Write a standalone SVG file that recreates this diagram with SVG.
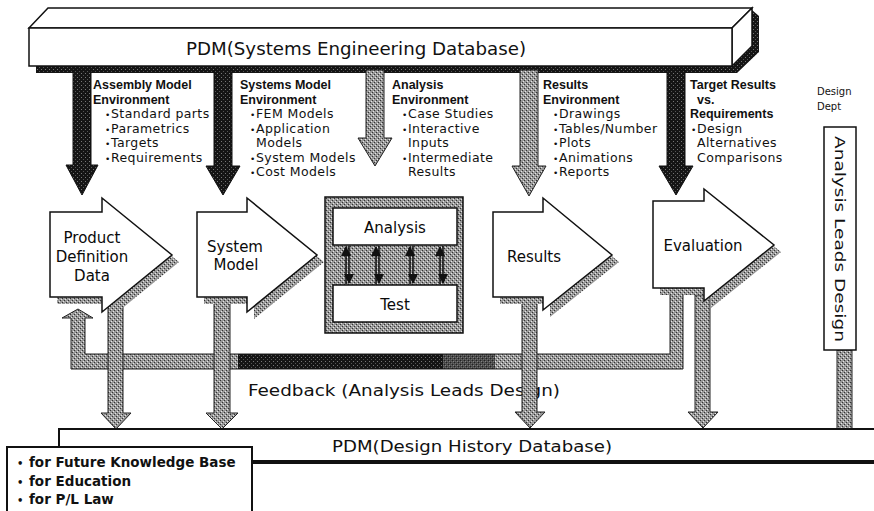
<svg xmlns="http://www.w3.org/2000/svg" width="874" height="511" viewBox="0 0 874 511">
  <defs>
    <style>
      .hd { font-family: "Liberation Sans", Arial, sans-serif; font-weight: bold; font-size: 12.5px; fill: #111; }
      .it { font-family: "DejaVu Sans", sans-serif; font-size: 12.5px; letter-spacing: 0.4px; fill: #111; }
      .bl { font-size: 9px; letter-spacing: 0; }
      .nd { font-family: "DejaVu Sans", sans-serif; font-size: 15px; fill: #0a0a0a; text-anchor: middle; }
      .box { fill: #fff; stroke: #111; stroke-width: 1.5; }
      .grey { fill: url(#ht); stroke: #222; stroke-width: 1; }
      .dark { fill: url(#dk); stroke: #111; stroke-width: 1; }
      .shade { fill: url(#ht); }
    </style>
    <!-- halftone grey fill -->
    <pattern id="ht" width="4" height="4" patternUnits="userSpaceOnUse">
      <rect width="4" height="4" fill="#989898"/>
      <rect x="0" y="0" width="1" height="1" fill="#333"/>
      <rect x="2" y="2" width="1" height="1" fill="#333"/>
      <rect x="1" y="3" width="1" height="1" fill="#e6e6e6"/>
      <rect x="3" y="1" width="1" height="1" fill="#e6e6e6"/>
    </pattern>
    <!-- dark halftone fill -->
    <pattern id="dk" width="4" height="4" patternUnits="userSpaceOnUse">
      <rect width="4" height="4" fill="#151515"/>
      <rect x="1" y="1" width="1" height="1" fill="#777"/>
      <rect x="3" y="3" width="1" height="1" fill="#555"/>
    </pattern>
    <marker id="tri" viewBox="0 0 10 10" refX="9" refY="5" markerWidth="10" markerHeight="10" markerUnits="userSpaceOnUse" orient="auto">
      <path d="M0,0 L10,5 L0,10 Z" fill="#111"/>
    </marker>
  </defs>

  <rect width="874" height="511" fill="#fff"/>

  <!-- PDM systems engineering database (3D bar) -->
  <g id="pdm-systems">
    <polygon points="36,66 732,66 752,46 752,10 759,16 759,52 737,73 36,73" fill="url(#dk)"/>
    <polygon class="box" points="29,28 48,8 752,8 732,28"/>
    <polygon class="box" points="732,28 752,8 752,46 732,66"/>
    <rect class="box" x="29" y="28" width="703" height="38"/>
    <text x="186" y="55" font-family="DejaVu Sans, sans-serif" font-size="17" fill="#111" textLength="340" lengthAdjust="spacingAndGlyphs">PDM(Systems Engineering Database)</text>
  </g>

  <!-- environment labels -->
  <g id="labels">
    <text class="hd" x="93" y="89">Assembly Model</text>
    <text class="hd" x="93" y="103.5">Environment</text>
    <text class="it" x="105" y="118"><tspan class="bl">•</tspan><tspan x="111">Standard parts</tspan></text>
    <text class="it" x="105" y="132.5"><tspan class="bl">•</tspan><tspan x="111">Parametrics</tspan></text>
    <text class="it" x="105" y="147"><tspan class="bl">•</tspan><tspan x="111">Targets</tspan></text>
    <text class="it" x="105" y="161.5"><tspan class="bl">•</tspan><tspan x="111">Requirements</tspan></text>

    <text class="hd" x="240" y="89">Systems Model</text>
    <text class="hd" x="240" y="103.5">Environment</text>
    <text class="it" x="250" y="118"><tspan class="bl">•</tspan><tspan x="256">FEM Models</tspan></text>
    <text class="it" x="250" y="132.5"><tspan class="bl">•</tspan><tspan x="256">Application</tspan></text>
    <text class="it" x="256" y="147">Models</text>
    <text class="it" x="250" y="161.5"><tspan class="bl">•</tspan><tspan x="256">System Models</tspan></text>
    <text class="it" x="250" y="176">
      <tspan class="bl">•</tspan><tspan x="256">Cost Models</tspan></text>

    <text class="hd" x="392" y="89">Analysis</text>
    <text class="hd" x="392" y="103.5">Environment</text>
    <text class="it" x="402" y="118"><tspan class="bl">•</tspan><tspan x="408">Case Studies</tspan></text>
    <text class="it" x="402" y="132.5"><tspan class="bl">•</tspan><tspan x="408">Interactive</tspan></text>
    <text class="it" x="408" y="147">Inputs</text>
    <text class="it" x="402" y="161.5"><tspan class="bl">•</tspan><tspan x="408">Intermediate</tspan></text>
    <text class="it" x="408" y="176">Results</text>

    <text class="hd" x="543" y="89">Results</text>
    <text class="hd" x="543" y="103.5">Environment</text>
    <text class="it" x="553" y="118"><tspan class="bl">•</tspan><tspan x="559">Drawings</tspan></text>
    <text class="it" x="553" y="132.5"><tspan class="bl">•</tspan><tspan x="559">Tables/Number</tspan></text>
    <text class="it" x="553" y="147"><tspan class="bl">•</tspan><tspan x="559">Plots</tspan></text>
    <text class="it" x="553" y="161.5"><tspan class="bl">•</tspan><tspan x="559">Animations</tspan></text>
    <text class="it" x="553" y="176"><tspan class="bl">•</tspan><tspan x="559">Reports</tspan></text>

    <text class="hd" x="690" y="89">Target Results</text>
    <text class="hd" x="697" y="103.5">vs.</text>
    <text class="hd" x="690" y="118">Requirements</text>
    <text class="it" x="691" y="132.5"><tspan class="bl">•</tspan><tspan x="697">Design</tspan></text>
    <text class="it" x="697" y="147">Alternatives</text>
    <text class="it" x="697" y="161.5">Comparisons</text>

    <text x="248" y="396" font-family="DejaVu Sans, sans-serif" font-size="16" fill="#111" textLength="312" lengthAdjust="spacingAndGlyphs">Feedback (Analysis Leads Design)</text>
  </g>

  <!-- connectors -->
  <g id="connectors">
    <!-- from the systems engineering database down to each stage -->
    <polygon class="dark" points="73,70 91,70 91,165 98,165 82,195 66,165 73,165"/>
    <polygon class="dark" points="214,70 232,70 232,166 240,166 223,195 206,166 214,166"/>
    <polygon class="grey" points="366,70 384,70 384,138 392,138 375,166 358,138 366,138"/>
    <polygon class="grey" points="520,70 538,70 538,166 546,166 529,196 512,166 520,166"/>
    <polygon class="dark" points="667,70 685,70 685,166 693,166 676,195 659,166 667,166"/>

    <!-- feedback loop from evaluation back to product definition -->
    <polygon class="grey" points="78,309 93,318 85,318 85,354 670,354 670,290 683,290 683,369 71,369 71,318 62,318"/>
    <rect x="238" y="354" width="205" height="15" fill="url(#dk)"/>
    <rect x="443" y="354" width="52" height="15" fill="url(#dk)" opacity="0.6"/>

    <!-- stages down to the design history database -->
    <polygon class="grey" points="108,300 123,300 123,413 131,413 116,429 101,413 108,413"/>
    <polygon class="grey" points="214,300 230,300 230,413 238,413 222,429 206,413 214,413"/>
    <polygon class="grey" points="522,300 537,300 537,412 545,412 530,428 515,412 522,412"/>
    <polygon class="grey" points="695,295 710,295 710,412 718,412 703,428 688,412 695,412"/>

    <!-- design dept post -->
    <rect class="grey" x="837" y="350" width="15" height="79"/>
  </g>

  <!-- stage nodes -->
  <g id="node-product">
    <polygon class="shade" points="57,219 109,219 109,205 179,262 109,319 109,304 57,304"/>
    <polygon class="box" points="50,212 102,212 102,198 172,255 102,312 102,297 50,297"/>
    <text class="nd" x="92" y="243">Product</text>
    <text class="nd" x="92" y="262">Definition</text>
    <text class="nd" x="92" y="281">Data</text>
  </g>

  <g id="node-system">
    <polygon class="shade" points="204,219 254,219 254,205 324,262 254,319 254,304 204,304"/>
    <polygon class="box" points="197,212 247,212 247,198 317,255 247,312 247,297 197,297"/>
    <text class="nd" x="235" y="252">System</text>
    <text class="nd" x="236" y="270">Model</text>
  </g>

  <g id="node-analysis">
    <rect x="325" y="197" width="138" height="136" fill="url(#ht)" stroke="#111" stroke-width="1.5"/>
    <rect class="box" x="333" y="208" width="124" height="37"/>
    <rect class="box" x="333" y="285" width="124" height="37"/>
    <text class="nd" x="395" y="233">Analysis</text>
    <text class="nd" x="395" y="310">Test</text>
    <g stroke="#111" stroke-width="1.5" fill="none">
      <line x1="346" y1="284" x2="346" y2="247" marker-end="url(#tri)"/>
      <line x1="349" y1="246" x2="349" y2="283" marker-end="url(#tri)"/>
      <line x1="376" y1="284" x2="376" y2="247" marker-end="url(#tri)"/>
      <line x1="379" y1="246" x2="379" y2="283" marker-end="url(#tri)"/>
      <line x1="410" y1="284" x2="410" y2="247" marker-end="url(#tri)"/>
      <line x1="413" y1="246" x2="413" y2="283" marker-end="url(#tri)"/>
      <line x1="440" y1="284" x2="440" y2="247" marker-end="url(#tri)"/>
      <line x1="443" y1="246" x2="443" y2="283" marker-end="url(#tri)"/>
    </g>
  </g>

  <g id="node-results">
    <polygon class="shade" points="500,219 550,219 550,205 619,262 550,317 550,304 500,304"/>
    <polygon class="box" points="493,212 543,212 543,198 612,255 543,310 543,297 493,297"/>
    <text class="nd" x="534" y="262">Results</text>
  </g>

  <g id="node-evaluation">
    <polygon class="shade" points="660,208 711,208 711,196 781,252 711,308 711,295 660,295"/>
    <polygon class="box" points="653,201 704,201 704,189 774,245 704,301 704,288 653,288"/>
    <text class="nd" x="703" y="251">Evaluation</text>
  </g>

  <!-- design department label -->
  <g id="design-dept">
    <text x="817" y="95" font-family="DejaVu Sans, sans-serif" font-size="10" fill="#111">Design</text>
    <text x="817" y="110" font-family="DejaVu Sans, sans-serif" font-size="10" fill="#111">Dept</text>
    <rect class="box" x="824" y="127" width="32" height="223"/>
    <text transform="translate(835,239) rotate(90)" text-anchor="middle" font-family="DejaVu Sans, sans-serif" font-size="14" fill="#111" textLength="206" lengthAdjust="spacingAndGlyphs">Analysis Leads Design</text>
  </g>

  <!-- PDM design history database -->
  <g id="pdm-history">
    <line x1="59" y1="429" x2="874" y2="429" stroke="#111" stroke-width="2"/>
    <line x1="59" y1="428" x2="59" y2="448" stroke="#111" stroke-width="2"/>
    <line x1="252" y1="462" x2="874" y2="462" stroke="#111" stroke-width="4"/>
    <text x="332" y="452" font-family="DejaVu Sans, sans-serif" font-size="15" fill="#111" textLength="280" lengthAdjust="spacingAndGlyphs">PDM(Design History Database)</text>
  </g>

  <!-- uses of the design history -->
  <g id="history-uses">
    <rect x="7" y="447" width="245" height="70" fill="#fff" stroke="#111" stroke-width="2"/>
    <g font-family="DejaVu Sans, sans-serif" font-size="13.5" font-weight="bold" fill="#111">
      <text x="17" y="467"><tspan font-size="10">•</tspan><tspan x="29">for Future Knowledge Base</tspan></text>
      <text x="17" y="486"><tspan font-size="10">•</tspan><tspan x="29">for Education</tspan></text>
      <text x="17" y="504"><tspan font-size="10">•</tspan><tspan x="29">for P/L Law</tspan></text>
    </g>
  </g>
</svg>
